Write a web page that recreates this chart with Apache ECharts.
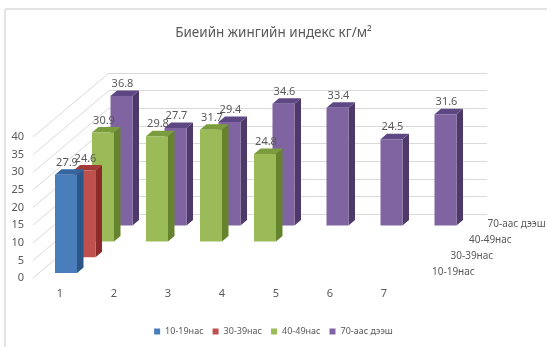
<!DOCTYPE html>
<html>
<head>
<meta charset="utf-8">
<script src="https://cdn.jsdelivr.net/npm/echarts@6/dist/echarts.min.js"></script>
<style>
  html, body { margin: 0; padding: 0; background: #fff; }
  #main { width: 547px; height: 347px; }
</style>
</head>
<body>
<div id="main"></div>
<script>
// 数据
var categories = ['1', '2', '3', '4', '5', '6', '7'];
var yTicks = [0, 5, 10, 15, 20, 25, 30, 35, 40];
var seriesNames = ['10-19нас', '30-39нас', '40-49нас', '70-аас дээш'];
var age10 = [27.9];
var age30 = [24.6];
var age40 = [30.9, 29.8, 31.7, 24.8];
var age70 = [36.8, 27.7, 29.4, 34.6, 33.4, 24.5, 31.6];

var chart = echarts.init(document.getElementById('main'));

var textColor = '#595959';
var fontFamily = 'Noto Sans';
// 斜投影的深度偏移
var rowDx = 18.5, rowDy = -15.8;
var firstDx = 6, firstDy = -5;
var depthX = 6.5, depthY = -5.5;
var barW = 22;

var colors = [
    { front: '#4a7ebb', side: '#2c5686', top: '#34659e' },
    { front: '#c0504d', side: '#8a2b29', top: '#a33b38' },
    { front: '#9bbb59', side: '#66842e', top: '#7b9c3c' },
    { front: '#8064a2', side: '#4d3a6a', top: '#5e4884' }
];

function toData(arr) {
    return arr.map(function (v, i) { return [i, v]; });
}

function barSeries(row, name, arr) {
    var c = colors[row];
    return {
        name: name,
        type: 'custom',
        xAxisIndex: 0,
        yAxisIndex: 0,
        data: toData(arr),
        color: c.front,
        renderItem: function (params, api) {
            var base = api.coord([api.value(0), 0]);
            var top = api.coord([api.value(0), api.value(1)]);
            var ox = firstDx + rowDx * row;
            var oy = firstDy + rowDy * row;
            var x0 = base[0] - barW / 2 + ox;
            var x1 = x0 + barW;
            var yb = base[1] + oy;
            var yt = top[1] + oy;
            return {
                type: 'group',
                children: [
                    { type: 'polygon', shape: { points: [[x1, yt], [x1 + depthX, yt + depthY], [x1 + depthX, yb + depthY], [x1, yb]] }, style: { fill: c.side } },
                    { type: 'polygon', shape: { points: [[x0, yt], [x0 + depthX, yt + depthY], [x1 + depthX, yt + depthY], [x1, yt]] }, style: { fill: c.top } },
                    { type: 'rect', shape: { x: x0, y: yt, width: barW, height: yb - yt }, style: { fill: c.front } },
                    { type: 'text', x: x0 + barW / 2 + 1, y: yt + depthY - 1, style: { text: String(api.value(1)), fill: textColor, font: '11px "' + fontFamily + '"', align: 'center', verticalAlign: 'bottom' } }
                ]
            };
        }
    };
}

var option = {
    animation: false,
    title: {
        text: 'Биеийн жингийн индекс кг/м²',
        left: 'center',
        top: 21,
        textStyle: { color: textColor, fontSize: 13.5, fontWeight: 'normal', fontFamily: fontFamily }
    },
    legend: {
        data: seriesNames,
        bottom: 6,
        left: 'center',
        itemWidth: 6,
        itemHeight: 6,
        itemGap: 9,
        icon: 'rect',
        textStyle: { color: textColor, fontSize: 9, fontFamily: fontFamily }
    },
    graphic: [
        { type: 'line', shape: { x1: 5, y1: 9, x2: 547, y2: 9 }, style: { stroke: '#e3e3e3', lineWidth: 2 } },
        { type: 'line', shape: { x1: 5, y1: 9, x2: 5, y2: 347 }, style: { stroke: '#e3e3e3', lineWidth: 2 } }
    ],
    grid: [
        { left: 33, top: 137, width: 378, height: 141 },   // 前平面
        { left: 109, top: 73, width: 378, height: 141 }    // 后墙
    ],
    xAxis: [
        {
            gridIndex: 0, type: 'category', data: categories,
            axisLine: { show: false }, axisTick: { show: false },
            axisLabel: { color: textColor, fontSize: 11, fontFamily: fontFamily, margin: 10 }
        },
        {
            gridIndex: 1, type: 'category', data: categories, show: false
        }
    ],
    yAxis: [
        {
            gridIndex: 0, type: 'value', min: 0, max: 40, interval: 5,
            axisLine: { show: false }, axisTick: { show: false }, splitLine: { show: false },
            axisLabel: { color: textColor, fontSize: 11, fontFamily: fontFamily, margin: 9 }
        },
        {
            gridIndex: 1, type: 'value', min: 0, max: 40, interval: 5,
            axisLine: { show: false }, axisTick: { show: false }, axisLabel: { show: false },
            splitLine: { lineStyle: { color: '#d9d9d9', width: 1 } }
        }
    ],
    series: [
        {
            // 左侧墙的斜线
            type: 'custom',
            xAxisIndex: 0,
            yAxisIndex: 0,
            silent: true,
            z: 1,
            data: yTicks.map(function (v) { return [0, v]; }),
            renderItem: function (params, api) {
                var p = api.coord([0, api.value(1)]);
                var x0 = p[0] - api.size([1, 0])[0] / 2;
                return {
                    type: 'line',
                    shape: { x1: x0, y1: p[1], x2: x0 + 76, y2: p[1] - 64 },
                    style: { stroke: '#d9d9d9', lineWidth: 1 }
                };
            }
        },
        {
            // 深度轴标签
            type: 'custom',
            xAxisIndex: 0,
            yAxisIndex: 0,
            silent: true,
            data: seriesNames.map(function (n, i) { return [6, 0, i]; }),
            renderItem: function (params, api) {
                var p = api.coord([6, 0]);
                var row = api.value(2);
                var x = p[0] + api.size([1, 0])[0] / 2 + firstDx + rowDx * row + 15;
                var y = p[1] + firstDy + rowDy * row - 1;
                return {
                    type: 'text', x: x, y: y,
                    style: { text: seriesNames[row], fill: textColor, font: '10px "' + fontFamily + '"', align: 'left', verticalAlign: 'middle' }
                };
            }
        },
        barSeries(3, seriesNames[3], age70),
        barSeries(2, seriesNames[2], age40),
        barSeries(1, seriesNames[1], age30),
        barSeries(0, seriesNames[0], age10)
    ]
};

chart.setOption(option);
</script>
</body>
</html>
